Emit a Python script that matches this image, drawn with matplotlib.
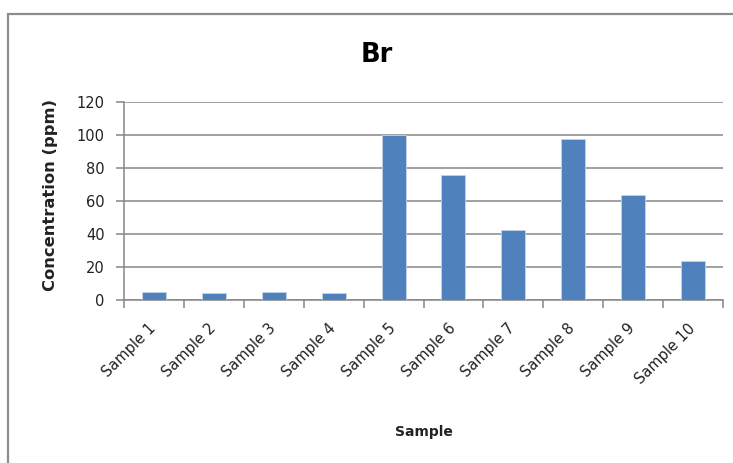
import matplotlib.pyplot as plt
from matplotlib.patches import Rectangle
import numpy as np

samples = ["Sample 1", "Sample 2", "Sample 3", "Sample 4", "Sample 5",
           "Sample 6", "Sample 7", "Sample 8", "Sample 9", "Sample 10"]
br_ppm = [5, 4, 5, 4, 100, 76, 42.5, 97.5, 63.5, 23.5]
y_ticks = [0, 20, 40, 60, 80, 100, 120]

bar_color = "#4F81BD"
grid_color = "#868686"

plt.rcParams["font.family"] = ["DejaVu Sans"]

fig = plt.figure(figsize=(7.33, 4.63), dpi=100)
W, H = 733, 463

# outer chart frame, cut off at the right and bottom edges
fig.patches.append(Rectangle((8 / W, -0.05), 1.2, 1 - 14 / H + 0.05,
                             transform=fig.transFigure, fill=False,
                             edgecolor="#8c8c8c", linewidth=1.6))

ax = fig.add_axes([124 / W, 1 - 300 / H, (723 - 124) / W, (300 - 102) / H])

x = np.arange(len(samples))
ax.bar(x, br_ppm, width=0.4, color=bar_color, edgecolor="#c5d3e6",
       linewidth=0.6, zorder=3)

ax.set_xlim(-0.5, len(samples) - 0.5)
ax.set_ylim(0, 120)
ax.set_yticks(y_ticks)
ax.yaxis.grid(True, color=grid_color, linewidth=1.1, zorder=0)

# invisible major ticks carry the slanted labels, set slightly right of centre
ax.set_xticks(x + 0.08)
ax.set_xticklabels(samples, rotation=45, ha="right", va="top",
                   rotation_mode="default", fontsize=10.5, color="#222222")
ax.tick_params(axis="x", which="major", length=0, pad=15)
# visible ticks sit on the category boundaries
ax.set_xticks(np.arange(len(samples) + 1) - 0.5, minor=True)
ax.tick_params(axis="x", which="minor", length=6, color=grid_color, width=1.1)
ax.tick_params(axis="y", length=6, color=grid_color, width=1.1, pad=8,
               labelsize=10.5, labelcolor="#222222")

for side in ["top", "right"]:
    ax.spines[side].set_visible(False)
for side in ["left", "bottom"]:
    ax.spines[side].set_color(grid_color)
    ax.spines[side].set_linewidth(1.1)

fig.text(377 / W, 1 - 55 / H, "Br", ha="center", va="center",
         fontsize=18.5, fontweight="bold")
fig.text(51 / W, 1 - 195 / H, "Concentration (ppm)", ha="center",
         va="center", rotation=90, fontsize=11.8, fontweight="bold",
         color="#222222")
fig.text(424 / W, 1 - 432 / H, "Sample", ha="center", va="center",
         fontsize=10, fontweight="bold", color="#222222")

fig.savefig("out.png", dpi=100)
